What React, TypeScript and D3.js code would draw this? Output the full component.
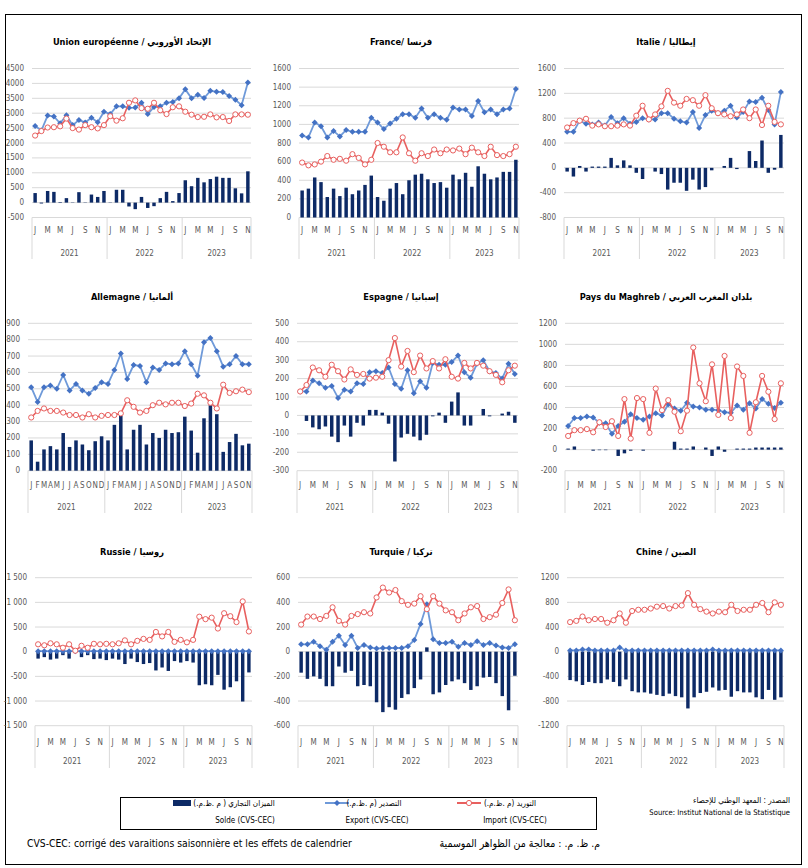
import React from "react";
import * as d3 from "d3";

// ---------- DATA ----------
const years = ["2021", "2022", "2023"];
const monthLetters = ["J", "F", "M", "A", "M", "J", "J", "A", "S", "O", "N", "D"];
const nMonths = 35; // Jan 2021 .. Nov 2023

const euExport = [2570, 2420, 2920, 2890, 2660, 2930, 2600, 2770, 2690, 2850, 2700, 3050, 2970, 3230, 3230, 3180, 3190, 3350, 2970, 3210, 3230, 3350, 3380, 3500, 3800, 3500, 3620, 3510, 3750, 3720, 3710, 3580, 3450, 3270, 4030];
const euImport = [2250, 2400, 2520, 2530, 2560, 2820, 2500, 2450, 2600, 2530, 2490, 2600, 2900, 2750, 2830, 3350, 3430, 3170, 3150, 3350, 3100, 2970, 3200, 3230, 3050, 2950, 2870, 2880, 2960, 2860, 2870, 2740, 2960, 2960, 2950];
const euSolde = [320, -30, 390, 360, 20, 150, 10, 350, 10, 270, 190, 390, 10, 430, 430, -130, -220, 190, -180, -120, 150, 360, 50, 320, 750, 550, 830, 680, 790, 870, 830, 830, 480, 310, 1050];

const frExport = [880, 860, 1020, 980, 860, 930, 870, 940, 920, 920, 920, 1070, 1020, 950, 1010, 1060, 1110, 1110, 1070, 1170, 1070, 1110, 1070, 1050, 1180, 1160, 1160, 1090, 1250, 1130, 1160, 1110, 1160, 1170, 1380];
const frImport = [590, 560, 570, 600, 660, 620, 630, 610, 680, 640, 570, 620, 800, 760, 700, 700, 860, 690, 610, 690, 660, 730, 690, 730, 720, 740, 680, 750, 700, 660, 760, 670, 660, 680, 760];
const frSolde = [290, 310, 430, 380, 220, 310, 230, 320, 250, 290, 350, 450, 220, 180, 310, 370, 250, 400, 460, 470, 410, 370, 380, 320, 460, 410, 480, 330, 550, 470, 410, 430, 490, 490, 620];

const itExport = [580, 580, 760, 710, 700, 730, 680, 820, 720, 800, 710, 740, 800, 780, 780, 880, 880, 790, 750, 730, 900, 640, 850, 920, 880, 920, 1000, 810, 900, 1070, 1060, 1130, 930, 700, 1220];
const itImport = [650, 720, 760, 790, 680, 700, 670, 670, 680, 700, 680, 840, 1000, 780, 860, 990, 1240, 1050, 1000, 1110, 1090, 1000, 1170, 960, 880, 860, 830, 860, 940, 800, 940, 690, 1000, 740, 700];
const itSolde = [-60, -140, 30, -60, 20, 20, 20, 160, 40, 120, 40, -80, -180, 0, -60, -100, -350, -240, -240, -370, -190, -350, -310, -40, 0, 30, 160, -20, 0, 270, 110, 440, -80, -30, 530];

const deExport = [510, 420, 510, 520, 500, 585, 490, 530, 490, 470, 505, 540, 530, 615, 715, 560, 645, 640, 540, 630, 615, 655, 650, 655, 730, 650, 580, 785, 810, 730, 635, 650, 700, 650, 650];
const deImport = [325, 365, 380, 365, 365, 355, 340, 340, 325, 345, 325, 335, 340, 340, 350, 430, 390, 355, 365, 400, 415, 405, 415, 415, 395, 410, 470, 460, 415, 380, 525, 475, 485, 495, 480];
const deSolde = [185, 55, 130, 150, 130, 230, 145, 185, 160, 125, 180, 210, 185, 280, 335, 130, 250, 280, 160, 230, 200, 250, 230, 235, 330, 245, 110, 320, 400, 345, 115, 175, 225, 155, 165];

const esExport = [130, 130, 190, 175, 150, 160, 95, 140, 130, 175, 170, 235, 240, 230, 260, 170, 145, 245, 120, 185, 150, 285, 275, 275, 290, 325, 235, 205, 280, 300, 240, 230, 200, 280, 225];
const esImport = [130, 165, 260, 245, 210, 275, 240, 195, 250, 220, 225, 200, 205, 210, 300, 420, 265, 350, 235, 325, 255, 295, 255, 305, 210, 200, 285, 255, 285, 270, 240, 220, 180, 245, 270];
const esSolde = [0, -30, -65, -75, -60, -115, -145, -55, -115, -40, -55, 30, 30, 15, -45, -250, -120, -100, -115, -135, -105, -5, 15, -40, 75, 125, -55, -55, 0, 35, -5, 0, 10, 20, -40];

const mgExport = [225, 300, 300, 315, 305, 255, 250, 150, 225, 265, 335, 300, 285, 315, 345, 325, 430, 390, 370, 445, 410, 400, 380, 380, 375, 355, 350, 420, 380, 440, 390, 480, 435, 395, 445];
const mgImport = [130, 185, 185, 195, 165, 260, 215, 270, 130, 480, 105, 490, 480, 160, 580, 375, 470, 360, 175, 370, 970, 630, 460, 810, 330, 890, 300, 790, 700, 160, 450, 700, 550, 290, 630];
const mgSolde = [10, 30, 0, 0, -10, -5, -5, 0, -60, -35, -10, 0, -10, 0, 0, 0, 0, 75, 10, 10, 30, 0, 20, -60, 30, -20, 0, 10, 10, 10, 20, 20, 20, 20, 20];

const ruExport = [10, 10, 10, 10, 10, 10, 10, 10, 10, 10, 10, 10, 10, 10, 10, 10, 10, 10, 10, 10, 10, 10, 10, 10, 10, 10, 10, 10, 10, 10, 10, 10, 10, 10, 10];
const ruImport = [150, 130, 170, 150, 80, 150, 20, 120, 80, 160, 150, 160, 150, 170, 230, 150, 220, 260, 240, 400, 310, 400, 200, 240, 190, 240, 710, 660, 690, 470, 780, 720, 600, 1020, 410];
const ruSolde = [-140, -110, -160, -140, -70, -140, -20, -110, -70, -150, -140, -170, -140, -160, -250, -140, -210, -250, -230, -380, -320, -390, -190, -220, -190, -220, -680, -660, -680, -470, -770, -720, -600, -1010, -420];

const trExport = [60, 60, 80, 45, 15, 80, 130, 55, 130, 30, 55, 35, 25, 30, 30, 30, 30, 45, 95, 225, 385, 100, 70, 70, 80, 40, 70, 55, 85, 55, 70, 50, 35, 30, 60];
const trImport = [220, 285, 285, 265, 290, 360, 250, 220, 290, 305, 320, 310, 440, 520, 480, 500, 410, 380, 390, 450, 345, 450, 390, 335, 320, 255, 310, 360, 370, 265, 280, 300, 395, 505, 255];
const trSolde = [-170, -220, -200, -220, -280, -280, -120, -170, -155, -280, -270, -280, -410, -490, -450, -470, -375, -345, -295, -225, 35, -345, -330, -270, -240, -225, -255, -310, -280, -210, -205, -255, -360, -475, -195];

const cnExport = [20, 20, 35, 35, 20, 20, 20, 20, 70, 20, 20, 20, 20, 20, 20, 20, 20, 20, 20, 20, 20, 20, 20, 35, 20, 20, 20, 20, 20, 20, 20, 20, 20, 20, 20];
const cnImport = [480, 500, 570, 510, 530, 530, 470, 510, 620, 470, 660, 680, 680, 700, 730, 740, 700, 740, 750, 950, 760, 690, 650, 620, 650, 640, 760, 660, 680, 680, 760, 790, 640, 800, 760];
const cnSolde = [-460, -480, -540, -490, -510, -510, -450, -490, -560, -450, -640, -660, -660, -680, -700, -720, -680, -720, -740, -920, -740, -670, -650, -580, -630, -620, -730, -640, -660, -660, -740, -770, -620, -780, -740];

const legendAr = ["الميزان التجاري ( م .ظ.م.)", "التصدير (م .ظ.م.)", "التوريد (م .ظ.م.)"];
const legendFr = ["Solde (CVS-CEC)", "Export (CVS-CEC)", "Import (CVS-CEC)"];

// ---------- STYLE ----------
const FONT = "'Liberation Sans Narrow','Arial Narrow','DejaVu Sans Condensed',sans-serif";
const C_BAR = "#0d2a66";
const C_EXP_LINE = "#6f9ad9";
const C_EXP_MARK = "#4472c4";
const C_IMP = "#e8605f";
const C_GRID = "#d9d9d9";
const C_TXT = "#595959";

type Cfg = {
  title: string; tx: number; ty: number;
  left: number; right: number; top: number; bottom: number;
  min: number; max: number; step: number;
  exp: number[]; imp: number[]; sol: number[];
  monthY: number; yearY: number; axisBottom: number;
  allMonths?: boolean; spaceSep?: boolean;
};

const R1 = { top: 68.5, bottom: 217.5, monthY: 230, yearY: 253, axisBottom: 259, ty: 42 };
const R2 = { top: 323.3, bottom: 470.7, monthY: 485, yearY: 507, axisBottom: 513, ty: 297 };
const R3 = { top: 577.7, bottom: 725.7, monthY: 742, yearY: 761, axisBottom: 768, ty: 552 };

const panels: Cfg[] = [
  { title: "Union européenne / الإتحاد الأوروبي", tx: 132, ...R1, left: 32, right: 251, min: -500, max: 4500, step: 500, exp: euExport, imp: euImport, sol: euSolde },
  { title: "France/ فرنسا", tx: 401, ...R1, left: 299, right: 519, min: 0, max: 1600, step: 200, exp: frExport, imp: frImport, sol: frSolde },
  { title: "Italie / إيطاليا", tx: 666, ...R1, left: 564, right: 784, min: -800, max: 1600, step: 400, exp: itExport, imp: itImport, sol: itSolde },
  { title: "Allemagne / ألمانيا", tx: 132, ...R2, left: 28, right: 252, min: 0, max: 900, step: 100, exp: deExport, imp: deImport, sol: deSolde, allMonths: true },
  { title: "Espagne / إسبانيا", tx: 401, ...R2, left: 297, right: 518, min: -300, max: 500, step: 100, exp: esExport, imp: esImport, sol: esSolde },
  { title: "Pays du Maghreb / بلدان المغرب العربي", tx: 666, ...R2, left: 565, right: 784, min: -200, max: 1200, step: 200, exp: mgExport, imp: mgImport, sol: mgSolde },
  { title: "Russie / روسيا", tx: 132, ...R3, left: 35, right: 252, min: -1500, max: 1500, step: 500, exp: ruExport, imp: ruImport, sol: ruSolde, spaceSep: true },
  { title: "Turquie / تركيا", tx: 401, ...R3, left: 298, right: 518, min: -600, max: 600, step: 200, exp: trExport, imp: trImport, sol: trSolde },
  { title: "Chine / الصين", tx: 666, ...R3, left: 567, right: 784, min: -1200, max: 1200, step: 400, exp: cnExport, imp: cnImport, sol: cnSolde },
];

function fmt(v: number, spaceSep?: boolean) {
  const a = Math.abs(v);
  let s = String(a);
  if (spaceSep && a >= 1000) s = s.slice(0, s.length - 3) + " " + s.slice(-3);
  return (v < 0 ? "-" : "") + s;
}

function Panel({ c }: { c: Cfg }) {
  const idx = d3.range(nMonths);
  const x = d3.scaleBand<number>().domain(idx).range([c.left, c.right]).padding(0);
  const y = d3.scaleLinear().domain([c.min, c.max]).range([c.bottom, c.top]);
  const ticks = d3.range(c.min, c.max + c.step / 2, c.step);
  const bw = x.bandwidth();
  const barW = bw * 0.55;
  const cx = (i: number) => (x(i) as number) + bw / 2;
  const line = d3.line<number>().x((_, i) => cx(i)).y((d) => y(d));
  const y0 = y(0);
  const seps = [x(0) as number, x(12) as number, x(24) as number, c.right];
  const diamond = (r: number) => `M0,${-r}L${r},0L0,${r}L${-r},0Z`;
  return (
    <g>
      <text x={c.tx} y={c.ty} textAnchor="middle" dominantBaseline="middle" fontFamily={FONT} fontWeight="bold" fontSize={9.2} fill="#000">{c.title}</text>
      {ticks.map((t) => (
        <g key={t}>
          <line x1={c.left} x2={c.right} y1={y(t)} y2={y(t)} stroke={C_GRID} strokeWidth={1} />
          <text x={c.left - 8} y={y(t)} textAnchor="end" dominantBaseline="middle" fontFamily={FONT} fontSize={8} fill={C_TXT}>{fmt(t, c.spaceSep)}</text>
        </g>
      ))}
      {seps.map((s, k) => (
        <line key={k} x1={s} x2={s} y1={c.bottom} y2={c.axisBottom} stroke={C_GRID} strokeWidth={1} />
      ))}
      {idx.map((i) => (c.allMonths || i % 2 === 0) ? (
        <text key={i} x={cx(i)} y={c.monthY} textAnchor="middle" dominantBaseline="middle" fontFamily={FONT} fontSize={8} fill={C_TXT}>{monthLetters[i % 12]}</text>
      ) : null)}
      {years.map((yr, k) => (
        <text key={yr} x={(seps[k] + seps[k + 1]) / 2} y={c.yearY} textAnchor="middle" dominantBaseline="middle" fontFamily={FONT} fontSize={8} fill={C_TXT}>{yr}</text>
      ))}
      {c.sol.map((v, i) => (
        <rect key={i} x={cx(i) - barW / 2} width={barW} y={Math.min(y(v), y0)} height={Math.abs(y(v) - y0)} fill={C_BAR} />
      ))}
      <path d={line(c.exp) || ""} fill="none" stroke={C_EXP_LINE} strokeWidth={1.8} />
      {c.exp.map((v, i) => (
        <path key={i} d={diamond(3)} transform={`translate(${cx(i)},${y(v)})`} fill={C_EXP_MARK} />
      ))}
      <path d={line(c.imp) || ""} fill="none" stroke={C_IMP} strokeWidth={1.6} />
      {c.imp.map((v, i) => (
        <circle key={i} cx={cx(i)} cy={y(v)} r={2.6} fill="#fff" stroke={C_IMP} strokeWidth={1} />
      ))}
    </g>
  );
}

export default function App() {
  return (
    <svg width={808} height={868} style={{ position: "absolute", left: 0, top: 0, background: "#fff" }}>
      <rect x={0} y={0} width={808} height={868} fill="#fff" />
      <rect x={5.5} y={14.5} width={796} height={850} fill="none" stroke="#000" strokeWidth={1} />
      {panels.map((c, k) => <Panel key={k} c={c} />)}
      {/* legend */}
      <rect x={120.5} y={797.5} width={476} height={32} fill="none" stroke="#000" strokeWidth={1} />
      <rect x={173} y={800} width={18} height={6} fill={C_BAR} />
      <text x={234} y={803} textAnchor="middle" dominantBaseline="middle" direction="rtl" fontFamily={FONT} fontSize={8} fill="#000">{legendAr[0]}</text>
      <text x={245} y={820} textAnchor="middle" dominantBaseline="middle" fontFamily={FONT} fontSize={8} fill="#000">{legendFr[0]}</text>
      <line x1={325} x2={349} y1={803} y2={803} stroke={C_EXP_LINE} strokeWidth={2} />
      <path d="M0,-3L3,0L0,3L-3,0Z" transform="translate(337,803)" fill={C_EXP_MARK} />
      <text x={374} y={803} textAnchor="middle" dominantBaseline="middle" direction="rtl" fontFamily={FONT} fontSize={8} fill="#000">{legendAr[1]}</text>
      <text x={377} y={820} textAnchor="middle" dominantBaseline="middle" fontFamily={FONT} fontSize={8} fill="#000">{legendFr[1]}</text>
      <line x1={457} x2={481} y1={803} y2={803} stroke={C_IMP} strokeWidth={2} />
      <circle cx={469} cy={803} r={2.6} fill="#fff" stroke={C_IMP} />
      <text x={510} y={803} textAnchor="middle" dominantBaseline="middle" direction="rtl" fontFamily={FONT} fontSize={8} fill="#000">{legendAr[2]}</text>
      <text x={515} y={820} textAnchor="middle" dominantBaseline="middle" fontFamily={FONT} fontSize={8} fill="#000">{legendFr[2]}</text>
      {/* source */}
      <text x={790} y={800} textAnchor="start" dominantBaseline="middle" direction="rtl" fontFamily={FONT} fontSize={8} fill="#000">المصدر : المعهد الوطني للإحصاء</text>
      <text x={790} y={813} textAnchor="end" dominantBaseline="middle" fontFamily={FONT} fontSize={7.6} fill="#000">Source: Institut National de la Statistique</text>
      {/* footer */}
      <text x={27} y={844} dominantBaseline="middle" fontFamily={FONT} fontSize={10.3} fill="#000">CVS-CEC: corrigé des varaitions saisonnière et les effets de calendrier</text>
      <text x={600} y={844} textAnchor="start" dominantBaseline="middle" direction="rtl" fontFamily={FONT} fontSize={10.5} fill="#000">م. ظ. م. : معالجة من الظواهر الموسمية</text>
    </svg>
  );
}
